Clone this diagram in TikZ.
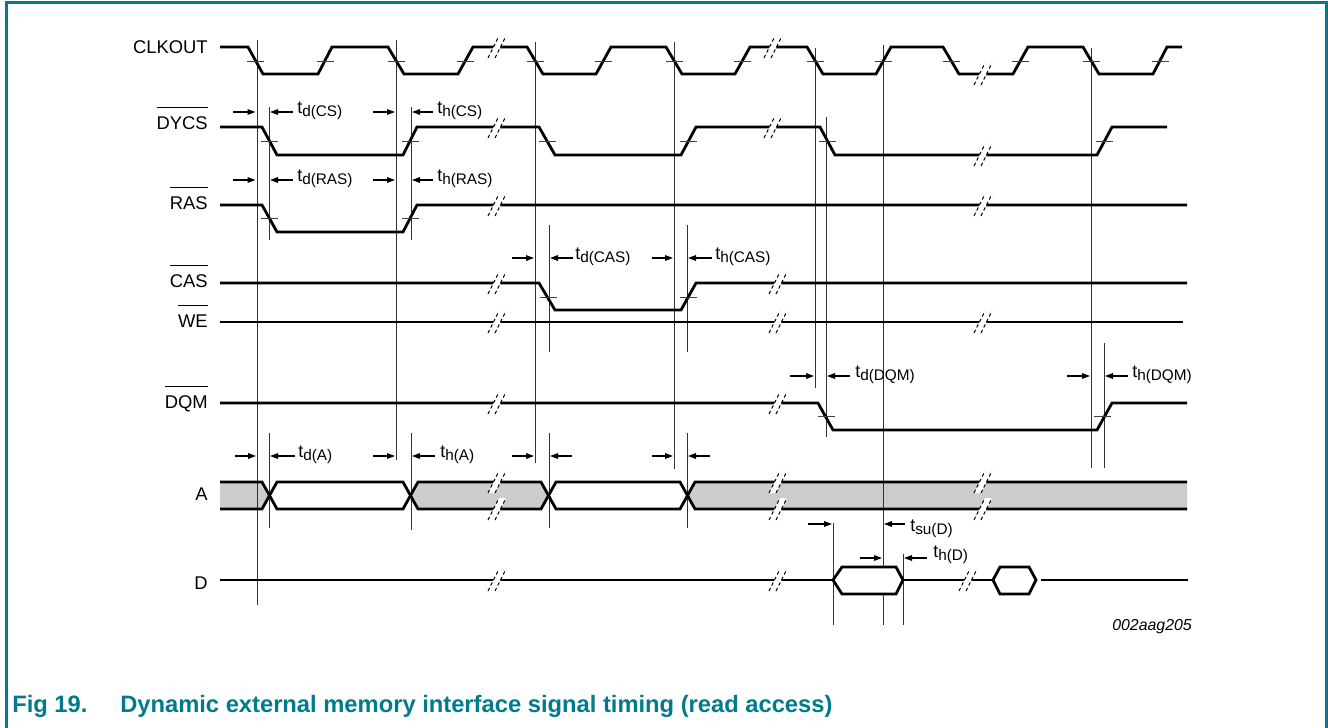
\documentclass[tikz,border=0pt]{standalone}
\usepackage{fontspec}
\setmainfont{Liberation Sans}
\usetikzlibrary{arrows.meta}
\definecolor{nxpteal}{RGB}{0,122,140}
\definecolor{busgray}{RGB}{204,204,204}
% timing parameter: t with lowered index
\newcommand{\tsub}[1]{t\raisebox{-2.2pt}{\fontsize{11.5}{12}\selectfont #1}}
% active-low signal name
\newcommand{\barsig}[1]{\setbox0=\hbox{#1}\makebox[0pt][l]{\raisebox{\dimexpr\ht0+6.5pt\relax}{\rule{\wd0}{0.7pt}}}\box0}
\tikzset{
  brk/.pic={
    \fill[white] (-9,-11) -- (2,11) -- (9,11) -- (-2,-11) -- cycle;
    \draw[brkline] (-9,-11) -- (2,11);
    \draw[brkline] (-2,-11) -- (9,11);
  }
}
\begin{document}
\begin{tikzpicture}[x=0.75pt,y=0.75pt,yscale=-1,xscale=1,
  sig/.style={line width=2.1},
  guide/.style={draw=black!80,line width=0.7},
  tick/.style={draw=black!75,line width=0.7},
  tarr/.style={-{Triangle[length=6pt,width=4.2pt]},line width=0.9},
  brkline/.style={dash pattern=on 2.6pt off 2pt,line width=0.7},
  sname/.style={anchor=base east,inner sep=0pt,font=\fontsize{13.8}{16}\selectfont},
  tname/.style={anchor=west,inner sep=0pt,font=\fontsize{13.5}{16}\selectfont}]
\useasboundingbox (0,0) rectangle (1328,728);

%Frame
\draw [color=nxpteal,line width=1.6] (6.5,728) -- (6.5,2.5) -- (1326.5,2.5) -- (1326.5,728);

%Bus A: filled segments
\fill [busgray] (220,482) -- (262,482) -- (269.5,495.5) -- (262,509) -- (220,509) -- cycle ;
\fill [busgray] (410.5,495.5) -- (418,482) -- (541,482) -- (548.5,495.5) -- (541,509) -- (418,509) -- cycle ;
\fill [busgray] (687.5,495.5) -- (695,482) -- (1187,482) -- (1187,509) -- (695,509) -- cycle ;

%Guide lines
\draw [guide] (257,40) -- (257,605) ;
\draw [guide] (396,40) -- (396,460) ;
\draw [guide] (269,107) -- (269,240) ;
\draw [guide] (269,433) -- (269,528) ;
\draw [guide] (411,107) -- (411,240) ;
\draw [guide] (411,433) -- (411,530) ;
\draw [guide] (535,42) -- (535,463) ;
\draw [guide] (549,225) -- (549,352) ;
\draw [guide] (549,433) -- (549,528) ;
\draw [guide] (674,42) -- (674,469) ;
\draw [guide] (687,225) -- (687,352) ;
\draw [guide] (687,433) -- (687,528) ;
\draw [guide] (815,48) -- (815,388) ;
\draw [guide] (826,117) -- (826,437) ;
\draw [guide] (883,45) -- (883,625) ;
\draw [guide] (833,523) -- (833,625) ;
\draw [guide] (903,554) -- (903,625) ;
\draw [guide] (1091,48) -- (1091,468) ;
\draw [guide] (1104,343) -- (1104,468) ;

%CLKOUT
\draw [sig] (220,47) -- (248,47) -- (263,74) -- (318,74) -- (332,47) -- (388,47) -- (404,74) -- (458,74) -- (473,47) -- (527,47) -- (543,74) -- (596,74) -- (611,47) -- (666,47) -- (682,74) -- (735,74) -- (750,47) -- (807,47) -- (823,74) -- (876,74) -- (891,47) -- (943,47) -- (959,74) -- (1013,74) -- (1028,47) -- (1083,47) -- (1099,74) -- (1153,74) -- (1167,47) -- (1182,47) ;
%DYCS
\draw [sig] (220,127) -- (262,127) -- (277,155) -- (403,155) -- (417,127) -- (539,127) -- (555,155) -- (681,155) -- (696,127) -- (820,127) -- (835,155) -- (1097,155) -- (1112,127) -- (1167,127) ;
%RAS
\draw [sig] (220,205) -- (262,205) -- (277,232) -- (403,232) -- (417,205) -- (1187,205) ;
%CAS
\draw [sig] (220,283) -- (539,283) -- (555,310) -- (681,310) -- (696,283) -- (1187,283) ;
%WE
\draw [sig] (220,322) -- (1183,322) ;
%DQM
\draw [sig] (220,403) -- (818,403) -- (833,430) -- (1097,430) -- (1112,403) -- (1187,403) ;
%A
\draw [sig] (220,482) -- (262,482) -- (277,509) -- (403,509) -- (418,482) -- (541,482) -- (556,509) -- (680,509) -- (695,482) -- (1187,482) ;
\draw [sig] (220,509) -- (262,509) -- (277,482) -- (403,482) -- (418,509) -- (541,509) -- (556,482) -- (680,482) -- (695,509) -- (1187,509) ;
%D
\draw [sig] (220,580) -- (833,580) ;
\draw [sig,fill=white] (833,580) -- (842,567) -- (896,567) -- (903,580) -- (896,594) -- (842,594) -- cycle ;
\draw [line width=1.2] (903,580) -- (993,580) ;
\draw [sig,fill=white] (993,580) -- (1000,567) -- (1029,567) -- (1036,580) -- (1029,594) -- (1000,594) -- cycle ;
\draw [sig] (1041,580) -- (1188,580) ;

%Breaks
\pic at (497,47) {brk}; \pic at (773,47) {brk}; \pic at (983,74) {brk};
\pic at (497,127) {brk}; \pic at (773,127) {brk}; \pic at (983,155) {brk};
\pic at (497,205) {brk}; \pic at (983,205) {brk};
\pic at (497,283) {brk}; \pic at (778,283) {brk};
\pic at (497,322) {brk}; \pic at (778,322) {brk}; \pic at (983,322) {brk};
\pic at (497,403) {brk}; \pic at (778,403) {brk};
\pic at (497,482) {brk}; \pic at (497,509) {brk};
\pic at (778,482) {brk}; \pic at (778,509) {brk};
\pic at (983,482) {brk}; \pic at (983,509) {brk};
\pic at (497,580) {brk}; \pic at (778,580) {brk}; \pic at (968,580) {brk};

%Threshold ticks
\foreach \c in {255.5,325,396,465.5,535,603.5,674,742.5,815,883.5,951,1020.5,1091,1160}
  \draw [tick] (\c-8.5,61) -- (\c+8.5,61) ;
\foreach \c in {269.5,410,547,688.5,827.5,1104.5}
  \draw [tick] (\c-8.5,141) -- (\c+8.5,141) ;
\foreach \c in {269.5,410}
  \draw [tick] (\c-8.5,218) -- (\c+8.5,218) ;
\foreach \c in {548,688.5}
  \draw [tick] (\c-8.5,297) -- (\c+8.5,297) ;
\foreach \c in {826,1102.5}
  \draw [tick] (\c-8.5,416) -- (\c+8.5,416) ;

%Timing arrows
\draw [tarr] (233,112) -- (255.5,112) ;
\draw [tarr] (293,112) -- (270,112) ;
\draw [tarr] (373,112) -- (395,112) ;
\draw [tarr] (433,112) -- (412,112) ;
\draw [tarr] (233,180) -- (255.5,180) ;
\draw [tarr] (293,180) -- (270,180) ;
\draw [tarr] (373,180) -- (395,180) ;
\draw [tarr] (433,180) -- (412,180) ;
\draw [tarr] (512,258) -- (534,258) ;
\draw [tarr] (573,258) -- (550,258) ;
\draw [tarr] (652,258) -- (673,258) ;
\draw [tarr] (712,258) -- (688,258) ;
\draw [tarr] (790,376) -- (814,376) ;
\draw [tarr] (850,376) -- (827,376) ;
\draw [tarr] (1067,376) -- (1090,376) ;
\draw [tarr] (1128,376) -- (1105,376) ;
\draw [tarr] (235,456) -- (256,456) ;
\draw [tarr] (295,456) -- (270,456) ;
\draw [tarr] (373,456) -- (395,456) ;
\draw [tarr] (435,456) -- (412,456) ;
\draw [tarr] (512,456) -- (534,456) ;
\draw [tarr] (572,456) -- (550,456) ;
\draw [tarr] (652,456) -- (673,456) ;
\draw [tarr] (710,456) -- (688,456) ;
\draw [tarr] (808,524) -- (832,524) ;
\draw [tarr] (905,524) -- (884,524) ;
\draw [tarr] (860,558) -- (882,558) ;
\draw [tarr] (927,558) -- (904,558) ;

% Text Node
\node [sname] (clkout) at (208,53) {CLKOUT};
\node [sname] (dycs) at (208,129) {\barsig{DYCS}};
\node [sname] (ras) at (208,209) {\barsig{RAS}};
\node [sname] (cas) at (208,287) {\barsig{CAS}};
\node [sname] (we) at (208,327) {\barsig{WE}};
\node [sname] (dqm) at (208,408) {\barsig{DQM}};
\node [sname] (addr) at (208,500) {A};
\node [sname] (data) at (208,589) {D};
% Text Node
\node [tname] (tdcs) at (297,111) {\tsub{d(CS)}};
\node [tname] (thcs) at (437,111) {\tsub{h(CS)}};
\node [tname] (tdras) at (297,179) {\tsub{d(RAS)}};
\node [tname] (thras) at (437,179) {\tsub{h(RAS)}};
\node [tname] (tdcas) at (575,257) {\tsub{d(CAS)}};
\node [tname] (thcas) at (715,257) {\tsub{h(CAS)}};
\node [tname] (tddqm) at (855,375) {\tsub{d(DQM)}};
\node [tname] (thdqm) at (1132,375) {\tsub{h(DQM)}};
\node [tname] (tda) at (298,455) {\tsub{d(A)}};
\node [tname] (tha) at (440,455) {\tsub{h(A)}};
\node [tname] (tsud) at (910,529) {\tsub{su(D)}};
\node [tname] (thd) at (933,555) {\tsub{h(D)}};
% Text Node
\node [anchor=east,inner sep=0pt,font=\itshape\fontsize{11.9}{14}\selectfont] (docid) at (1192,627) {002aag205};
\node [anchor=west,inner sep=0pt,text=nxpteal,font=\bfseries\fontsize{17.8}{20}\selectfont] (fignum) at (12,706) {Fig 19.};
\node [anchor=west,inner sep=0pt,text=nxpteal,font=\bfseries\fontsize{17.8}{20}\selectfont] (figtitle) at (120,706) {Dynamic external memory interface signal timing (read access)};

\end{tikzpicture}
\end{document}
